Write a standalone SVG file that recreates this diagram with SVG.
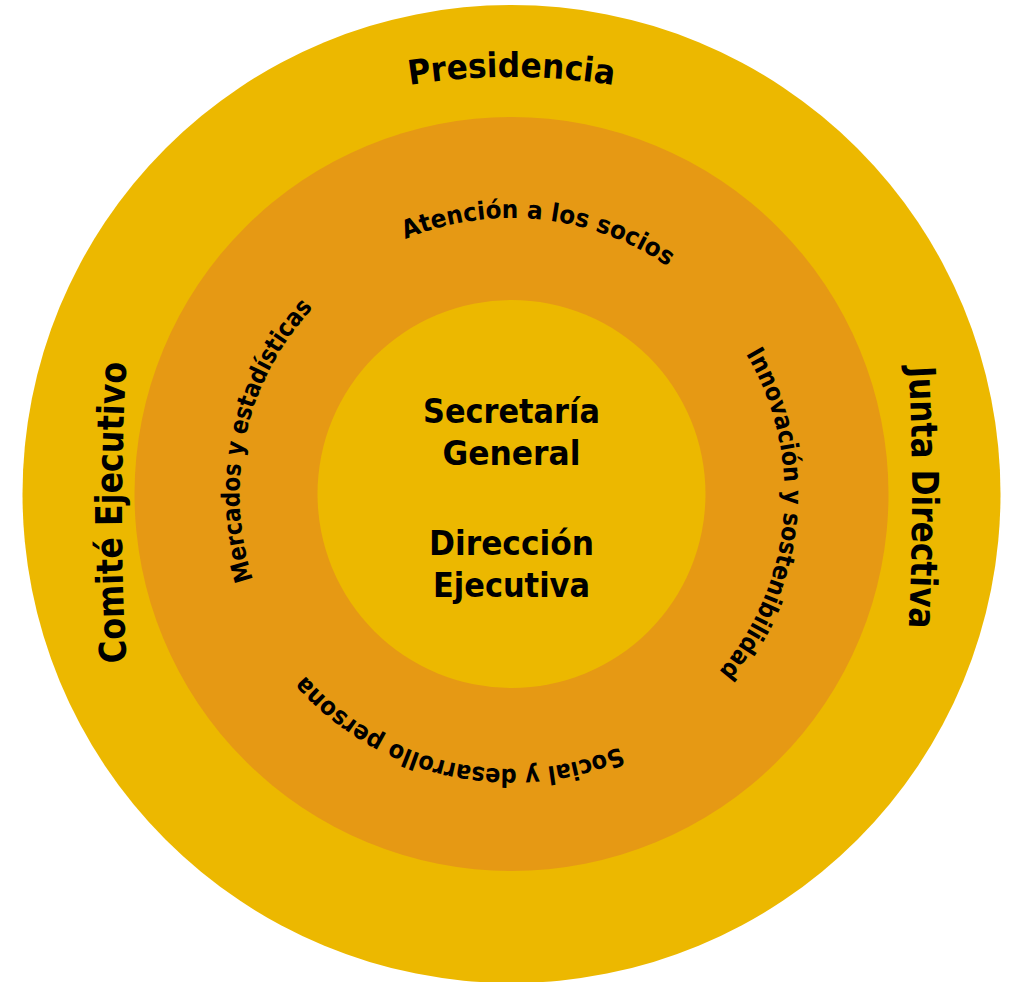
<svg xmlns="http://www.w3.org/2000/svg" xmlns:xlink="http://www.w3.org/1999/xlink" width="1009" height="982" viewBox="0 0 1009 982">
  <style>
    .outer { fill: #ECB800; }
    .middle { fill: #E69914; }
    .inner { fill: #ECB800; }
    .lbl { font-family: "DejaVu Sans", "Liberation Sans", sans-serif; font-weight: bold; fill: #000; text-anchor: middle; }
    .big { font-size: 37px; }
    .pres { font-size: 34px; }
    .small { font-size: 25px; }
    .center { font-size: 33px; }
  </style>
  <defs>
    <path id="pPres" d="M186.5,164 A650,650 0 0 1 836.5,164"/>
    <path id="pJunta" d="M887.7,149.5 A2500,2500 0 0 1 887.7,845.5"/>
    <path id="pComite" d="M146.3,860.5 A2500,2500 0 0 1 146.3,164.5"/>
    <path id="pAtencion" d="M235.5,494 A276,276 0 0 1 787.5,494"/>
    <path id="pMercados" d="M511.5,766 A272,272 0 0 1 511.5,222"/>
    <path id="pInnov" d="M511.5,221 A273,273 0 0 1 511.5,767"/>
    <path id="pSocial" d="M786.5,494 A275,275 0 0 1 236.5,494"/>
  </defs>
  <g id="ring-outer">
    <circle class="outer" cx="511.5" cy="494" r="489"/>
    <text class="lbl pres"><textPath xlink:href="#pPres" href="#pPres" startOffset="50%" textLength="205" lengthAdjust="spacingAndGlyphs">Presidencia</textPath></text>
    <text class="lbl big"><textPath xlink:href="#pJunta" href="#pJunta" startOffset="50%" textLength="261" lengthAdjust="spacingAndGlyphs">Junta Directiva</textPath></text>
    <text class="lbl big"><textPath xlink:href="#pComite" href="#pComite" startOffset="50%" textLength="300" lengthAdjust="spacingAndGlyphs">Comité Ejecutivo</textPath></text>
  </g>
  <g id="ring-middle">
    <circle class="middle" cx="511.5" cy="494" r="377"/>
    <text class="lbl small"><textPath xlink:href="#pAtencion" href="#pAtencion" startOffset="53.3%" textLength="275" lengthAdjust="spacingAndGlyphs">Atención a los socios</textPath></text>
    <text class="lbl small"><textPath xlink:href="#pMercados" href="#pMercados" startOffset="56.9%" textLength="292" lengthAdjust="spacingAndGlyphs">Mercados y estadísticas</textPath></text>
    <text class="lbl small"><textPath xlink:href="#pInnov" href="#pInnov" startOffset="52.7%" textLength="341" lengthAdjust="spacingAndGlyphs">Innovación y sostenibilidad</textPath></text>
    <text class="lbl small"><textPath xlink:href="#pSocial" href="#pSocial" startOffset="57.1%" textLength="345" lengthAdjust="spacingAndGlyphs">Social y desarrollo persona</textPath></text>
  </g>
  <g id="ring-inner">
    <circle class="inner" cx="511.5" cy="494" r="194"/>
    <text class="lbl center" x="511.5" y="423" textLength="177" lengthAdjust="spacingAndGlyphs">Secretaría</text>
    <text class="lbl center" x="511.5" y="465" textLength="138" lengthAdjust="spacingAndGlyphs">General</text>
    <text class="lbl center" x="511.5" y="555" textLength="165" lengthAdjust="spacingAndGlyphs">Dirección</text>
    <text class="lbl center" x="511.5" y="597" textLength="157" lengthAdjust="spacingAndGlyphs">Ejecutiva</text>
  </g>
  <g id="connectors"/>
</svg>
